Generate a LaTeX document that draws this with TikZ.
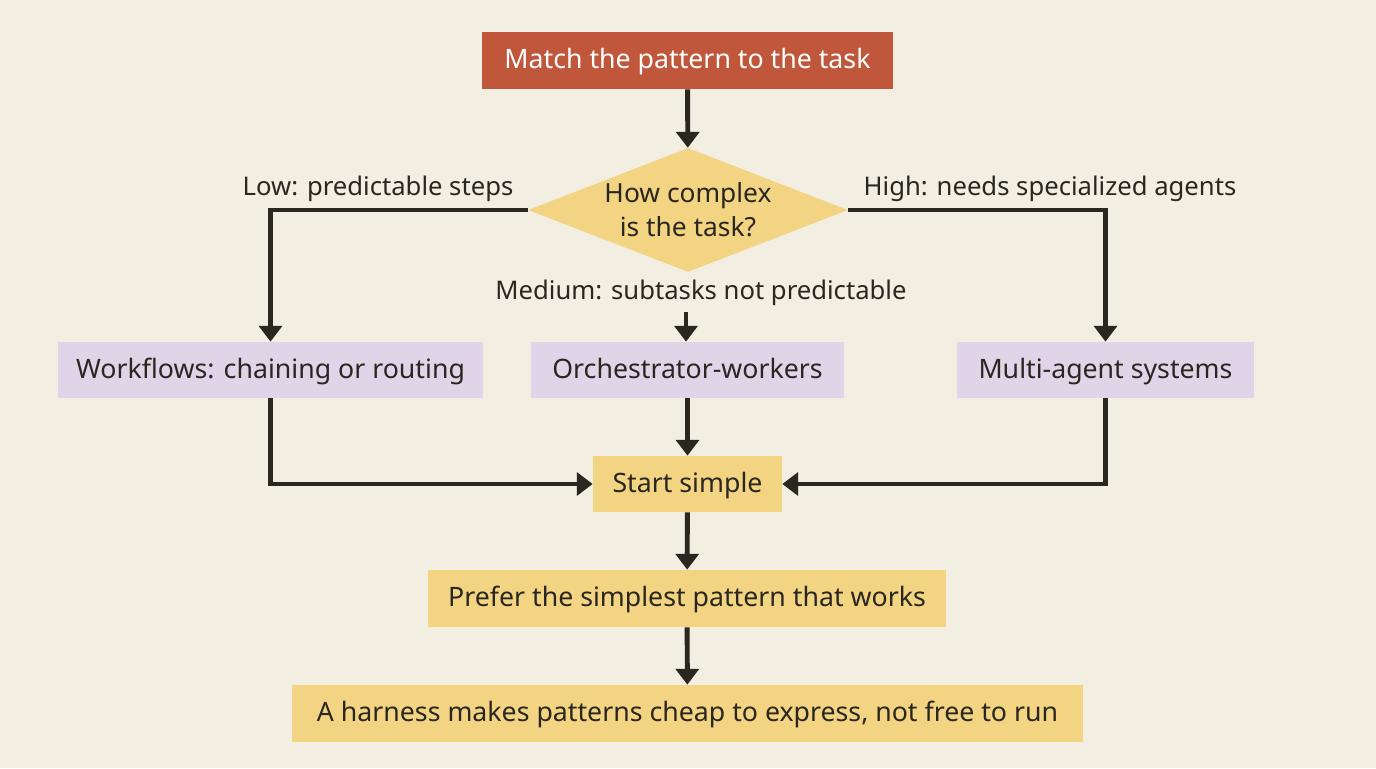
\documentclass[tikz,border=0pt]{standalone}
\usepackage{fontspec}
\setmainfont{Noto Sans}
\usetikzlibrary{shapes.geometric,arrows.meta}
\definecolor{bg}{HTML}{F3EEE2}
\definecolor{topc}{HTML}{C0573A}
\definecolor{yel}{HTML}{F2D483}
\definecolor{lav}{HTML}{E0D5E8}
\definecolor{ink}{HTML}{2A2620}
\begin{document}
\begin{tikzpicture}[x=0.02cm,y=-0.02cm,
  box/.style={rectangle,inner sep=0pt,font=\fontsize{15.2}{18}\selectfont,text=ink,text depth=0.2em},
  lbl/.style={font=\fontsize{14.6}{17}\selectfont,text=ink,inner sep=0pt},
  arr/.style={draw=ink,line width=2.8pt,-{Triangle[length=9pt,width=13pt]}},
  ln/.style={draw=ink,line width=2.8pt}]
\fill[bg] (0,0) rectangle (1376,768);
\useasboundingbox (0,0) rectangle (1376,768);
\node[box,fill=topc,text=white,minimum width=8.22cm,minimum height=1.14cm] (top) at (687.5,60.5) {Match the pattern to the task};
\node[diamond,fill=yel,minimum width=6.4cm,minimum height=2.48cm,inner sep=0pt,aspect=2.58,align=center,font=\fontsize{15}{19.5}\selectfont,text=ink] (dec) at (688,210) {How complex\\is the task?};
\node[box,fill=lav,minimum width=8.5cm,minimum height=1.12cm] (wf) at (270.5,370) {Workflows: chaining or routing};
\node[box,fill=lav,minimum width=6.26cm,minimum height=1.12cm] (ow) at (687.5,370) {Orchestrator-workers};
\node[box,fill=lav,minimum width=5.94cm,minimum height=1.12cm] (ma) at (1105.5,370) {Multi-agent systems};
\node[box,fill=yel,minimum width=3.78cm,minimum height=1.12cm] (ss) at (687.5,484) {Start simple};
\node[box,fill=yel,minimum width=10.36cm,minimum height=1.14cm] (pr) at (687,598.5) {Prefer the simplest pattern that works};
\node[box,fill=yel,minimum width=15.82cm,minimum height=1.14cm] (hn) at (687.5,713.5) {A harness makes patterns cheap to express, not free to run};
\node[lbl] (low) at (378,189) {Low: predictable steps};
\node[lbl] (high) at (1050,189) {High: needs specialized agents};
\node[lbl] (med) at (701,293) {Medium: subtasks not predictable};
\coordinate (m0) at (686,312);
\draw[arr] (top) -- (dec);
\draw[arr] (dec.west) -| (wf.north);
\draw[arr] (dec.east) -| (ma.north);
\draw[arr] (m0) -- (m0 |- ow.north);
\draw[arr] (ow) -- (ss);
\draw[arr] (wf.south) |- (ss.west);
\draw[arr] (ma.south) |- (ss.east);
\draw[arr] (ss) -- (pr);
\draw[arr] (pr) -- (hn);
\end{tikzpicture}
\end{document}
